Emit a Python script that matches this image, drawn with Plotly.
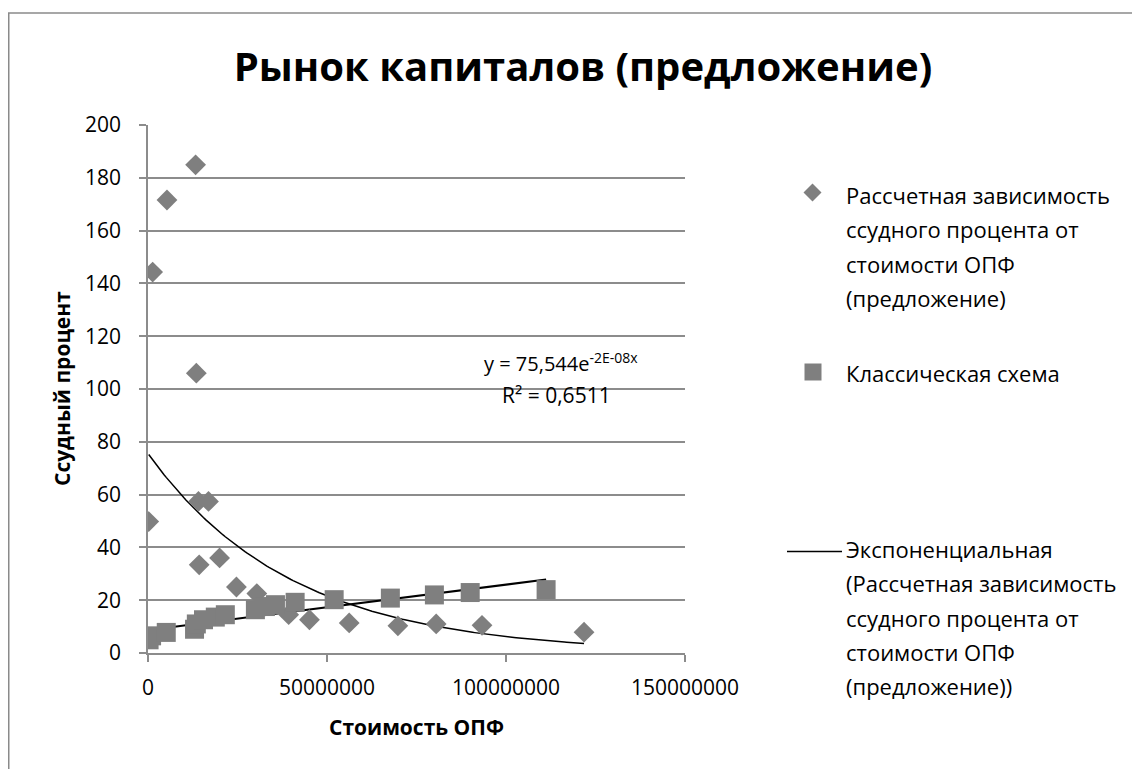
import numpy as np
import plotly.graph_objects as go

# ---- data ----
calc_x = [0.2e6, 1.3e6, 5.3e6, 13.3e6, 13.5e6, 14.1e6, 16.9e6, 14.3e6, 20.0e6, 24.7e6,
          30.4e6, 39.3e6, 45.1e6, 56.2e6, 69.8e6, 80.5e6, 93.3e6, 121.8e6]
calc_y = [49.8, 144.3, 171.6, 184.9, 106.0, 57.4, 57.4, 33.4, 36.0, 25.0,
          22.5, 14.5, 12.6, 11.4, 10.3, 11.0, 10.5, 7.9]

class_x = [0.3e6, 1.0e6, 5.1e6, 13.0e6, 13.5e6, 15.5e6, 18.8e6, 21.6e6, 30.0e6, 32.8e6,
           35.6e6, 41.1e6, 52.0e6, 67.7e6, 80.0e6, 90.0e6, 111.2e6]
class_y = [5.0, 6.5, 7.8, 9.0, 11.0, 12.6, 13.6, 14.5, 16.4, 17.6,
           18.3, 19.2, 20.2, 20.8, 22.0, 22.9, 24.0]

# trendline coefficients
EXP_A = 75.544
EXP_B = -2.5e-8
LIN_A = 8.7
LIN_B = 0.172e-6

x_ticks = [0, 50000000, 100000000, 150000000]
y_ticks = [0, 20, 40, 60, 80, 100, 120, 140, 160, 180, 200]

title_text = "Рынок капиталов (предложение)"
x_title = "Стоимость ОПФ"
y_title = "Ссудный процент"
legend1 = ["Рассчетная зависимость", "ссудного процента от", "стоимости ОПФ", "(предложение)"]
legend2 = ["Классическая схема"]
legend3 = ["Экспоненциальная", "(Рассчетная зависимость", "ссудного процента от",
           "стоимости ОПФ", "(предложение))"]
eq_text = "y = 75,544e<sup>-2E-08x</sup>"
r2_text = "R² = 0,6511"

FONT = "Open Sans"
GREY = "#7F7F7F"
GRID = "#8C8C8C"

OFF = 8  # page body margin
W, H = 1132, 761
ML, MR, MT, MB = 140, 455, 117, 116
PW = W - ML - MR
PH = H - MT - MB


def px2paper_x(px):
    return (px - OFF - ML) / PW


def px2paper_y(py):
    return (H - MB - (py - OFF)) / PH


def py2data(py):
    return (653.3 - py) / 2.641


fig = go.Figure()

# trendlines
ex = np.linspace(min(calc_x), max(calc_x), 200)
fig.add_trace(go.Scatter(x=ex, y=EXP_A * np.exp(EXP_B * ex), mode="lines",
                         line=dict(color="black", width=1.5), showlegend=False,
                         hoverinfo="skip"))
lx = np.array([min(class_x), max(class_x)])
fig.add_trace(go.Scatter(x=lx, y=LIN_A + LIN_B * lx, mode="lines",
                         line=dict(color="black", width=2), showlegend=False,
                         hoverinfo="skip"))

fig.add_trace(go.Scatter(x=calc_x, y=calc_y, mode="markers",
                         marker=dict(symbol="diamond", size=16, color=GREY),
                         showlegend=False))
fig.add_trace(go.Scatter(x=class_x, y=class_y, mode="markers",
                         marker=dict(symbol="square", size=19, color=GREY),
                         showlegend=False))

annotations = []


def add_lines(lines, y0, step=34.3):
    for i, t in enumerate(lines):
        annotations.append(dict(text=t, x=px2paper_x(844), y=px2paper_y(y0 + i * step),
                                xref="paper", yref="paper", xanchor="left", yanchor="middle",
                                showarrow=False, font=dict(family=FONT, size=22, color="black")))


add_lines(legend1, 195)
add_lines(legend2, 373)
add_lines(legend3, 549)

# trendline label
annotations.append(dict(text=eq_text, x=115.3e6, y=py2data(363), xref="x", yref="y",
                        showarrow=False, xanchor="center", yanchor="middle",
                        font=dict(family=FONT, size=20, color="black")))
annotations.append(dict(text=r2_text, x=114e6, y=py2data(395), xref="x", yref="y",
                        showarrow=False, xanchor="center", yanchor="middle",
                        font=dict(family=FONT, size=21, color="black")))

# axis titles
annotations.append(dict(text="<b>" + x_title + "</b>", x=0.5, y=px2paper_y(727),
                        xref="paper", yref="paper", showarrow=False, yanchor="middle",
                        font=dict(family=FONT, size=21, color="black")))
annotations.append(dict(text="<b>" + y_title + "</b>", x=px2paper_x(62), y=0.5,
                        xref="paper", yref="paper", showarrow=False, textangle=-90,
                        xanchor="center", yanchor="middle",
                        font=dict(family=FONT, size=21, color="black")))

shapes = []
# chart border (left and top visible)
shapes.append(dict(type="rect", xref="paper", yref="paper",
                   x0=px2paper_x(OFF + 0.75), x1=px2paper_x(1180), y0=px2paper_y(800),
                   y1=px2paper_y(13),
                   line=dict(color="#8A8A8A", width=1.5), fillcolor="rgba(0,0,0,0)", layer="below"))
# legend symbols
shapes.append(dict(type="path", xref="paper", yref="paper", xsizemode="pixel", ysizemode="pixel",
                   xanchor=px2paper_x(812.5), yanchor=px2paper_y(192.5),
                   path="M -9 0 L 0 9 L 9 0 L 0 -9 Z", fillcolor=GREY, line=dict(width=0)))
shapes.append(dict(type="rect", xref="paper", yref="paper", xsizemode="pixel", ysizemode="pixel",
                   xanchor=px2paper_x(813), yanchor=px2paper_y(372),
                   x0=-8.5, x1=8.5, y0=-8.5, y1=8.5, fillcolor=GREY, line=dict(width=0)))
shapes.append(dict(type="line", xref="paper", yref="paper",
                   x0=px2paper_x(787), x1=px2paper_x(842), y0=px2paper_y(551.5), y1=px2paper_y(551.5),
                   line=dict(color="black", width=1.5)))

fig.update_layout(
    width=W, height=H,
    margin=dict(l=ML, r=MR, t=MT, b=MB),
    paper_bgcolor="white", plot_bgcolor="white",
    title=dict(text="<b>" + title_text + "</b>", x=(583 - OFF) / W, xanchor="center",
               y=1 - (67 - OFF) / H, yanchor="middle", xref="container", yref="container",
               font=dict(family=FONT, size=40, color="black")),
    xaxis=dict(range=[0, 150e6], tickvals=x_ticks, ticktext=[str(v) for v in x_ticks],
               showgrid=False, zeroline=False, showline=True, linecolor=GRID, linewidth=1.5,
               ticks="outside", ticklen=7, tickcolor=GRID, tickwidth=1.5,
               tickfont=dict(family=FONT, size=21, color="black"), ticklabelstandoff=8),
    yaxis=dict(range=[0, 200], tickvals=y_ticks, showgrid=True, gridcolor=GRID, gridwidth=1.5,
               zeroline=False, showline=True, linecolor=GRID, linewidth=1.5,
               ticks="outside", ticklen=7, tickcolor=GRID, tickwidth=1.5,
               tickfont=dict(family=FONT, size=21, color="black"), ticklabelstandoff=14),
    annotations=annotations,
    shapes=shapes,
    showlegend=False,
)

fig.write_html("out.html")
